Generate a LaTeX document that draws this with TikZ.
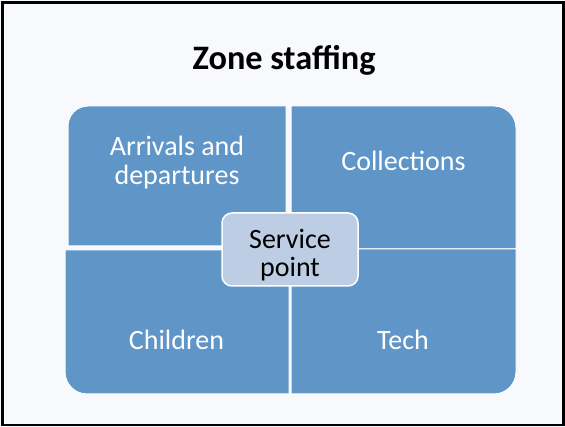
\documentclass[tikz,border=0pt]{standalone}
\usepackage{fontspec}
\setmainfont{Carlito}
\definecolor{pagebg}{HTML}{F7F9FD}
\definecolor{zoneblue}{HTML}{5F95C7}
\definecolor{hubblue}{HTML}{BDCDE3}
\begin{document}
\begin{tikzpicture}[x=1pt,y=1pt,
  zone/.style={fill=zoneblue,draw=white,line width=1pt},
  zonelabel/.style={text=white,font=\fontsize{28}{28.5}\selectfont,align=center,inner sep=0pt},
  hub/.style={fill=hubblue,draw=white,line width=1.5pt,rounded corners=10pt,
    minimum width=136pt,minimum height=73pt,inner sep=0pt},
  hublabel/.style={font=\fontsize{28}{28.2}\selectfont,align=center,text=black,inner sep=0pt},
  heading/.style={font=\bfseries\fontsize{34.3}{40}\selectfont,inner sep=0pt}]
\useasboundingbox (0,0) rectangle (565,-427);
\fill[pagebg] (0,0) rectangle (565,-427);
\draw[line width=2.5pt] (2.5,-2.5) rectangle (563.5,-425);

\node[heading,anchor=base] (title) at (284,-69.5) {Zone staffing};

% four zones, each rounded only at its outer corner
\filldraw[zone] (68,-246) -- (68,-126) arc[start angle=180,end angle=90,radius=20]
  -- (286,-106) -- (286,-246) -- cycle;
\filldraw[zone] (291,-249) -- (291,-106) -- (494,-106) arc[start angle=90,end angle=0,radius=22]
  -- (516,-249) -- cycle;
\filldraw[zone] (65,-250) -- (289,-250) -- (289,-394) -- (87,-394)
  arc[start angle=270,end angle=180,radius=22] -- cycle;
\filldraw[zone] (291,-249) -- (516,-249) -- (516,-372)
  arc[start angle=0,end angle=-90,radius=22] -- (291,-394) -- cycle;

\node[zonelabel] (arrivals) at (177,-162.5) {Arrivals and\\departures};
\node[zonelabel,anchor=base] (collections) at (403.5,-170.5) {Collections};
\node[zonelabel,anchor=base] (children) at (176.5,-350) {Children};
\node[zonelabel,anchor=base] (tech) at (403,-350) {Tech};

\node[hub] (service) at (290,-249.5) {};
\node[hublabel] (servicetext) at (service.center) [yshift=-5.5pt] {Service\\point};
\end{tikzpicture}
\end{document}
